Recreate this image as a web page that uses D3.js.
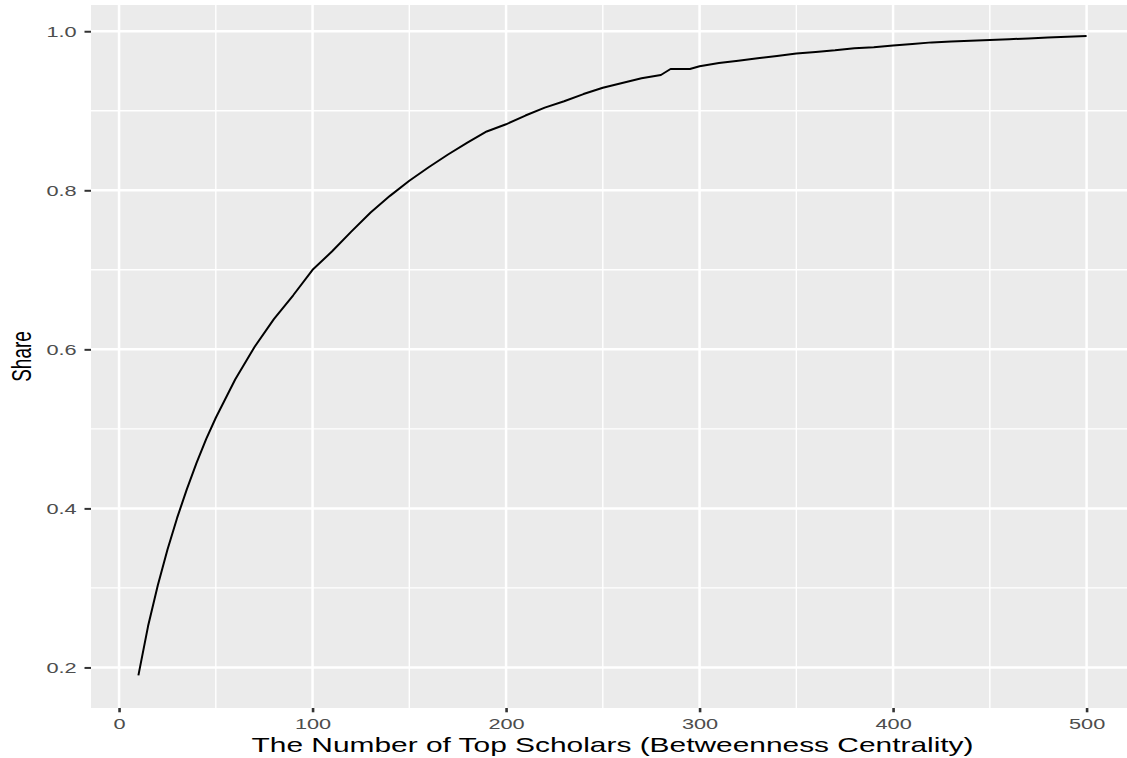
<!DOCTYPE html>
<html>
<head>
<meta charset="utf-8">
<script src="https://cdn.jsdelivr.net/npm/d3@7"></script>
<style>
  body { margin: 0; background: #fff; }
  svg { display: block; font-family: "Liberation Sans", Arial, sans-serif; }
</style>
</head>
<body>
<svg id="chart" width="1127" height="758"></svg>
<script>
// number of top scholars and the share they cover
const topN = [10, 15, 20, 25, 30, 35, 40, 45, 50, 60, 70, 80, 90, 100, 110, 120, 130, 140, 150,
  160, 170, 180, 190, 200, 210, 220, 230, 240, 250, 260, 270, 280, 285, 290, 295, 300,
  310, 320, 330, 340, 350, 360, 370, 380, 390, 400, 410, 420, 430, 440, 450, 460, 470, 480, 490, 500];
const share = [0.190, 0.252, 0.303, 0.348, 0.388, 0.424, 0.457, 0.487, 0.514, 0.562, 0.603, 0.638, 0.668,
  0.700, 0.723, 0.748, 0.772, 0.793, 0.812, 0.829, 0.845, 0.860, 0.874, 0.883, 0.894, 0.904, 0.912,
  0.921, 0.929, 0.935, 0.941, 0.945, 0.9525, 0.9525, 0.9525, 0.956, 0.960, 0.963, 0.966, 0.969,
  0.972, 0.974, 0.976, 0.9786, 0.980, 0.982, 0.984, 0.986, 0.987, 0.988, 0.989, 0.990, 0.991,
  0.992, 0.993, 0.994];

const xTicks = [0, 100, 200, 300, 400, 500];
const xMinor = [50, 150, 250, 350, 450];
const yTicks = [0.2, 0.4, 0.6, 0.8, 1.0];
const yMinor = [0.3, 0.5, 0.7, 0.9];

const data = topN.map((n, i) => ({ n, s: share[i] }));

const panel = { left: 91, right: 1134, top: 5, bottom: 708 };
const stretch = 1.45; // the picture is wider than the text it was made with

const svg = d3.select('#chart');

const x = d3.scaleLinear().domain([-14.5, 524.5]).range([panel.left, panel.right]);
const y = d3.scaleLinear().domain([0.149, 1.033]).range([panel.bottom, panel.top]);

// panel
svg.append('rect')
  .attr('x', panel.left).attr('y', panel.top)
  .attr('width', panel.right - panel.left).attr('height', panel.bottom - panel.top)
  .attr('fill', '#ebebeb');

const grid = svg.append('g');
grid.selectAll('.xmin').data(xMinor).enter().append('line')
  .attr('x1', d => x(d)).attr('x2', d => x(d))
  .attr('y1', panel.top).attr('y2', panel.bottom)
  .attr('stroke', '#fff').attr('stroke-width', 1.4);
grid.selectAll('.ymin').data(yMinor).enter().append('line')
  .attr('x1', panel.left).attr('x2', panel.right)
  .attr('y1', d => y(d)).attr('y2', d => y(d))
  .attr('stroke', '#fff').attr('stroke-width', 1.4);
grid.selectAll('.xmaj').data(xTicks).enter().append('line')
  .attr('x1', d => x(d)).attr('x2', d => x(d))
  .attr('y1', panel.top).attr('y2', panel.bottom)
  .attr('stroke', '#fff').attr('stroke-width', 2.5);
grid.selectAll('.ymaj').data(yTicks).enter().append('line')
  .attr('x1', panel.left).attr('x2', panel.right)
  .attr('y1', d => y(d)).attr('y2', d => y(d))
  .attr('stroke', '#fff').attr('stroke-width', 2.5);

// the curve
const line = d3.line().x(d => x(d.n)).y(d => y(d.s));
svg.append('path')
  .datum(data)
  .attr('d', line)
  .attr('fill', 'none')
  .attr('stroke', '#000')
  .attr('stroke-width', 2)
  .attr('stroke-linejoin', 'round');

// axes
const xAxis = svg.append('g')
  .attr('transform', `translate(0,${panel.bottom})`)
  .call(d3.axisBottom(x).tickValues(xTicks).tickSizeInner(4.3).tickSizeOuter(0).tickPadding(6.5));
xAxis.select('.domain').remove();
xAxis.selectAll('line').attr('stroke', '#333').attr('stroke-width', 2.6);
xAxis.selectAll('text')
  .attr('fill', '#4d4d4d')
  .style('font-size', '15px')
  .attr('transform', `scale(${stretch},1)`);

const yAxis = svg.append('g')
  .attr('transform', `translate(${panel.left},0)`)
  .call(d3.axisLeft(y).tickValues(yTicks).tickFormat(d3.format('.1f')).tickSizeInner(6.5).tickSizeOuter(0));
yAxis.select('.domain').remove();
yAxis.selectAll('line').attr('stroke', '#333').attr('stroke-width', 2);
yAxis.selectAll('text')
  .attr('fill', '#4d4d4d')
  .style('font-size', '15px')
  .attr('x', -14.3 / stretch)
  .attr('transform', `scale(${stretch},1)`);

// axis titles
svg.append('text')
  .attr('x', (panel.left + panel.right) / 2)
  .attr('y', 751.5)
  .attr('text-anchor', 'middle')
  .attr('textLength', 722)
  .attr('lengthAdjust', 'spacingAndGlyphs')
  .style('font-size', '21px')
  .attr('fill', '#000')
  .text('The Number of Top Scholars (Betweenness Centrality)');

svg.append('text')
  .attr('transform', `translate(31,${(panel.top + panel.bottom) / 2}) scale(${stretch},1) rotate(-90)`)
  .attr('text-anchor', 'middle')
  .style('font-size', '19px')
  .attr('fill', '#000')
  .text('Share');
</script>
</body>
</html>
